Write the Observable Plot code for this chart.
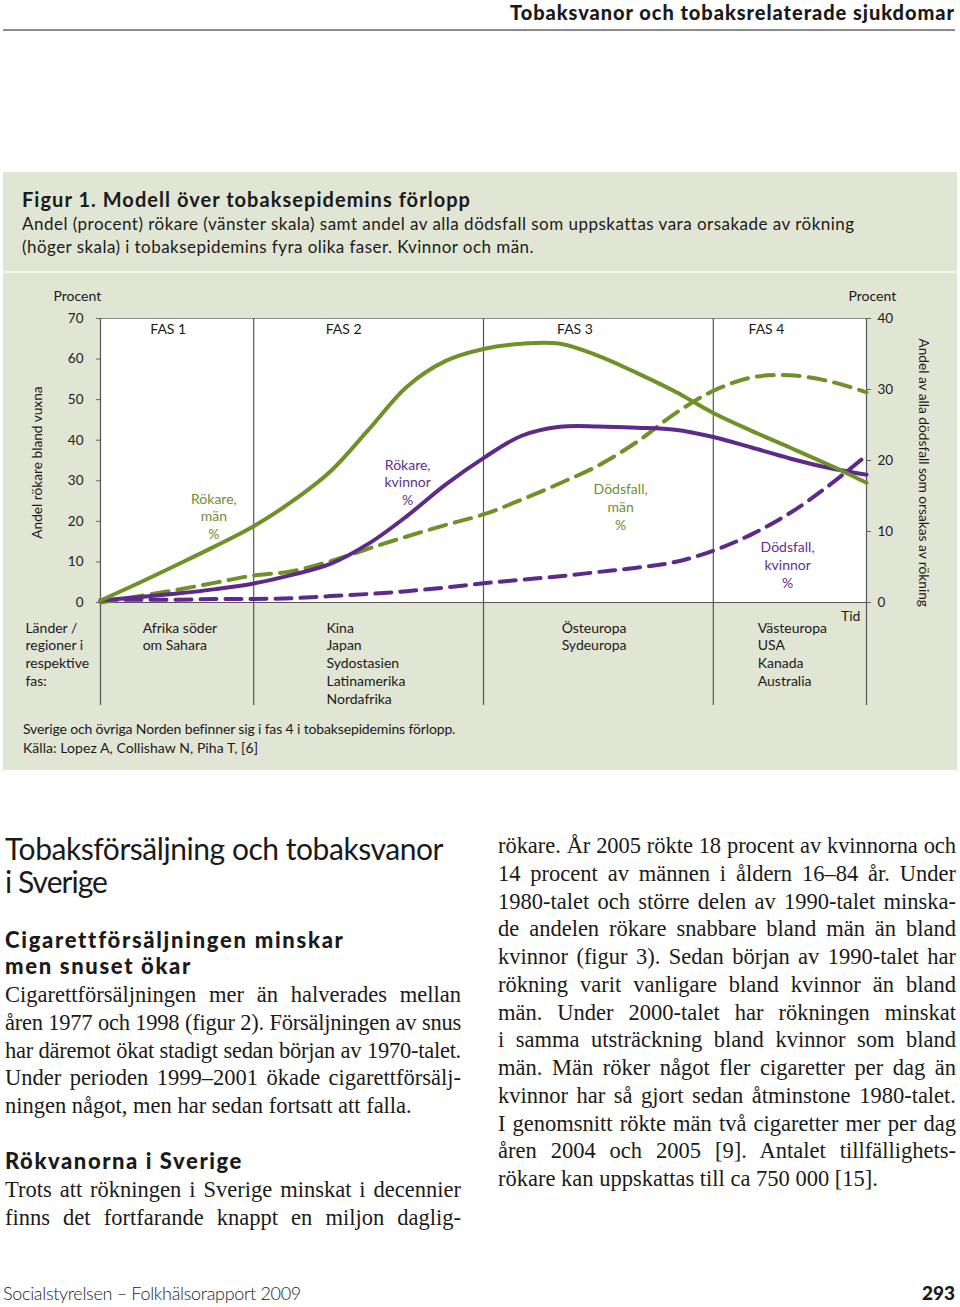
<!DOCTYPE html>
<html lang="sv"><head><meta charset="utf-8">
<script src="https://cdn.jsdelivr.net/npm/d3@7"></script>
<script src="https://cdn.jsdelivr.net/npm/@observablehq/plot@0.6"></script>
<style>
body{margin:0;background:#fff;}
#page{position:relative;width:960px;height:1307px;overflow:hidden;font-family:Lato,"Open Sans",sans-serif;color:#1a1a1a;}
.abs{position:absolute;white-space:nowrap;}
.serif{font-family:"Liberation Serif","Times New Roman",serif;font-size:22.5px;line-height:27.75px;color:#1a1a1a;}
.j{white-space:nowrap;text-align:justify;text-align-last:justify;}
.l{white-space:nowrap;text-align:left;}
</style></head>
<body><div id="page">
  <div class="abs" data-fit="445" style="right:5px;top:0px;font-size:20px;font-weight:900;line-height:24px;">Tobaksvanor och tobaksrelaterade sjukdomar</div>
  <div class="abs" style="left:3px;top:29px;width:952px;height:1.5px;background:#8c8c8c;"></div>

  <div class="abs" style="left:3px;top:172px;width:954px;height:598px;background:#e1e5d4;"></div>
  <div class="abs" style="left:3px;top:271px;width:954px;height:2px;background:#f4f6ee;"></div>
  <div class="abs" data-fit="449" style="left:22px;top:186px;font-size:20px;font-weight:700;line-height:26px;">Figur 1. Modell över tobaksepidemins förlopp</div>
  <div class="abs" data-fit="832" style="left:22px;top:212px;font-size:17px;line-height:23px;">Andel (procent) rökare (vänster skala) samt andel av alla dödsfall som uppskattas vara orsakade av rökning</div>
  <div class="abs" data-fit="512" style="left:22px;top:235px;font-size:17px;line-height:23px;">(höger skala) i tobaksepidemins fyra olika faser. Kvinnor och män.</div>
  <div id="chart" class="abs" style="left:0;top:275px;"></div>
  <div class="abs" data-fit="432" style="left:23px;top:719px;font-size:14px;line-height:20px;">Sverige och övriga Norden befinner sig i fas 4 i tobaksepidemins förlopp.</div>
  <div class="abs" data-fit="235" style="left:23px;top:738px;font-size:14px;line-height:20px;">Källa: Lopez A, Collishaw N, Piha T, [6]</div>

  <div class="abs" data-fit="438" style="left:5px;top:832px;font-size:30px;line-height:33px;font-weight:400;">Tobaksförsäljning och tobaksvanor</div>
  <div class="abs" data-fit="102" style="left:5px;top:865px;font-size:30px;line-height:33px;font-weight:400;">i Sverige</div>
  <div class="abs" data-fit="338" style="left:5px;top:927px;font-size:22px;line-height:26px;font-weight:900;">Cigarettförsäljningen minskar</div>
  <div class="abs" data-fit="187" style="left:5px;top:953px;font-size:22px;line-height:26px;font-weight:900;">men snuset ökar</div>
  <div class="abs serif" id="colA" style="left:5px;top:981px;width:456px;"></div>
  <div class="abs" data-fit="238" style="left:5px;top:1148px;font-size:22px;line-height:26px;font-weight:900;">Rökvanorna i Sverige</div>
  <div class="abs serif" id="colB" style="left:5px;top:1176px;width:456px;"></div>
  <div class="abs serif" id="colC" style="left:498px;top:832px;width:458px;"></div>

  <div class="abs" data-fit="298" style="left:3px;top:1281px;font-size:18px;line-height:24px;font-weight:300;color:#222;">Socialstyrelsen – Folkhälsorapport 2009</div>
  <div class="abs" style="right:5px;top:1281px;font-size:19px;line-height:24px;font-weight:900;">293</div>
</div>
<script>
// ---- data ----
const tid = [0,5,10,15,20,25,30,35,40,45,50,55,60,65,70,75,80,85,90,95,100];
const rokareMan       = [0.5,4.8,9.3,13.9,18.8,24.9,32.3,42.6,53.2,59.5,62.5,63.8,63.8,60.8,56.6,52.0,46.7,42.3,38.2,34.0,29.5];
const rokareKvinnor   = [0.5,1.3,2.2,3.3,4.7,6.8,9.5,14.5,21.3,29,35.6,41.1,43.3,43.4,43.1,42.6,40.8,38.2,35.5,33.2,31.5];
const dodsfallMan     = [0,0.9,1.8,2.8,3.8,4.4,5.8,7.6,9.3,10.9,12.4,14.5,16.8,19.3,22.6,26.6,29.8,31.7,32,31.2,29.6];
const dodsfallKvinnor = [0.3,0.4,0.4,0.5,0.5,0.6,0.9,1.2,1.6,2.1,2.7,3.2,3.7,4.3,4.9,5.7,7.3,9.6,12.6,16.4,20.7];
const phaseBounds = [0,20,50,80,100];
const phaseLabels = ["FAS 1","FAS 2","FAS 3","FAS 4"];
const phaseLabelX = [6.5,29.4,59.6,84.6];
const regionLabels = ["Afrika söder\nom Sahara","Kina\nJapan\nSydostasien\nLatinamerika\nNordafrika","Östeuropa\nSydeuropa","Västeuropa\nUSA\nKanada\nAustralia"];
const regionX = [5.5,29.5,60.2,85.8];
const leftTicks = [0,10,20,30,40,50,60,70];
const rightTicks = [0,10,20,30,40];
const curveLabels = ["Rökare,\nmän\n%","Rökare,\nkvinnor\n%","Dödsfall,\nmän\n%","Dödsfall,\nkvinnor\n%"];
const curveLabelX = [14.8,40.1,67.9,89.7];
const curveLabelY = [21.4,29.8,23.7,9.4];

const GREEN = "#6f9127", PURPLE = "#5d2a8c";
const LGREEN = "#6f8d33", LPURPLE = "#5e3088";
const K = 70/40; // right scale (0-40) onto left scale (0-70)

const mk = (vals, right) => tid.map((t,i)=>({t, v: right ? vals[i]*K : vals[i]}));

const chart = Plot.plot({
  width: 960, height: 430,
  marginLeft: 100, marginRight: 94, marginTop: 43, marginBottom: 103,
  x: {domain:[0,100], axis:null},
  y: {domain:[0,70], axis:null},
  style: {background:"transparent", fontFamily:"Lato, sans-serif", fontSize:"13.5px", color:"#222", overflow:"visible"},
  marks: [
    Plot.frame({fill:"white", stroke:null}),
    Plot.ruleY([70], {stroke:"#8a8a8a", strokeWidth:1.2}),
    Plot.ruleY([0], {stroke:"#555", strokeWidth:1.2}),
    Plot.ruleX(phaseBounds, {x: d=>d, y1: 70, y2: -25.4, stroke:"#555", strokeWidth:1.2}),
    Plot.axisY(leftTicks, {anchor:"left", tickSize:4, tickPadding:13, label:null, stroke:"#666", fill:"#222"}),
    Plot.axisY(rightTicks.map(v=>v*K), {anchor:"right", tickSize:4, tickPadding:7, label:null, stroke:"#666", fill:"#222", tickFormat: d => String(Math.round(d/K))}),
    Plot.line(mk(dodsfallKvinnor,true), {x:"t", y:"v", stroke:PURPLE, strokeWidth:4, strokeDasharray:"16,9", curve:"catmull-rom"}),
    Plot.line(mk(dodsfallMan,true), {x:"t", y:"v", stroke:GREEN, strokeWidth:4, strokeDasharray:"17,9", curve:"catmull-rom"}),
    Plot.line(mk(rokareKvinnor,false), {x:"t", y:"v", stroke:PURPLE, strokeWidth:4, curve:"catmull-rom"}),
    Plot.line(mk(rokareMan,false), {x:"t", y:"v", stroke:GREEN, strokeWidth:4, curve:"catmull-rom"}),
    Plot.text(phaseLabels, {x:(d,i)=>phaseLabelX[i], y:67.3, text:d=>d, textAnchor:"start", fill:"#1a1a1a", fontSize:14}),
    Plot.text(curveLabels, {x:(d,i)=>curveLabelX[i], y:(d,i)=>curveLabelY[i], text:d=>d, fill:(d,i)=>[LGREEN,LPURPLE,LGREEN,LPURPLE][i], fontSize:14, lineHeight:1.27}),
    Plot.text(regionLabels, {x:(d,i)=>regionX[i], y:-4.3, text:d=>d, textAnchor:"start", lineAnchor:"top", fill:"#1a1a1a", fontSize:14, lineHeight:1.27}),
    Plot.text(["Länder /\nregioner i\nrespektive\nfas:"], {x:-9.8, y:-4.3, text:d=>d, textAnchor:"start", lineAnchor:"top", fill:"#1a1a1a", fontSize:14, lineHeight:1.27}),
    Plot.text(["Tid"], {x:99.2, y:-3.45, text:d=>d, textAnchor:"end", fill:"#1a1a1a", fontSize:14}),
    Plot.text(["Procent"], {x:-6.14, y:75.4, text:d=>d, textAnchor:"start", fill:"#1a1a1a", fontSize:14}),
    Plot.text(["Procent"], {x:97.65, y:75.4, text:d=>d, textAnchor:"start", fill:"#1a1a1a", fontSize:14}),
    Plot.text(["Andel rökare bland vuxna"], {x:-8.16, y:34.5, text:d=>d, rotate:-90, fill:"#1a1a1a", fontSize:13.7}),
    Plot.text(["Andel av alla dödsfall som orsakas av rökning"], {x:107.4, y:32, text:d=>d, rotate:90, fill:"#1a1a1a", fontSize:13.7})
  ]
});
document.getElementById("chart").appendChild(chart);

// ---- body text ----
const colA = [
  ["Cigarettförsäljningen mer än halverades mellan","j"],
  ["åren 1977 och 1998 (figur 2). Försäljningen av snus","j"],
  ["har däremot ökat stadigt sedan början av 1970-talet.","j"],
  ["Under perioden 1999–2001 ökade cigarettförsälj-","j"],
  ["ningen något, men har sedan fortsatt att falla.","l"]
];
const colB = [
  ["Trots att rökningen i Sverige minskat i decennier","j"],
  ["finns det fortfarande knappt en miljon daglig-","j"]
];
const colC = [
  ["rökare. År 2005 rökte 18 procent av kvinnorna och","j"],
  ["14 procent av männen i åldern 16–84 år. Under","j"],
  ["1980-talet och större delen av 1990-talet minska-","j"],
  ["de andelen rökare snabbare bland män än bland","j"],
  ["kvinnor (figur 3). Sedan början av 1990-talet har","j"],
  ["rökning varit vanligare bland kvinnor än bland","j"],
  ["män. Under 2000-talet har rökningen minskat","j"],
  ["i samma utsträckning bland kvinnor som bland","j"],
  ["män. Män röker något fler cigaretter per dag än","j"],
  ["kvinnor har så gjort sedan åtminstone 1980-talet.","j"],
  ["I genomsnitt rökte män två cigaretter mer per dag","j"],
  ["åren 2004 och 2005 [9]. Antalet tillfällighets-","j"],
  ["rökare kan uppskattas till ca 750 000 [15].","l"]
];
function fill(id, lines){
  const el = document.getElementById(id);
  const W = parseFloat(el.style.width);
  for (const [txt, cls] of lines){
    const d = document.createElement("div");
    d.className = "l";
    const s = document.createElement("span");
    s.textContent = txt;
    d.appendChild(s);
    el.appendChild(d);
    const w = s.getBoundingClientRect().width;
    if (w > W - 2) d.style.letterSpacing = ((W - 2 - w) / txt.length) + "px";
    d.className = cls;
  }
}
fill("colA", colA); fill("colB", colB); fill("colC", colC);

// fit single-line headings to measured widths of the original
document.querySelectorAll("[data-fit]").forEach(el => {
  const target = +el.dataset.fit;
  const s = document.createElement("span");
  s.textContent = el.textContent; el.textContent = ""; el.appendChild(s);
  const w = s.getBoundingClientRect().width;
  const n = s.textContent.length;
  el.style.letterSpacing = ((target - w) / n) + "px";
});
</script>
</body></html>
